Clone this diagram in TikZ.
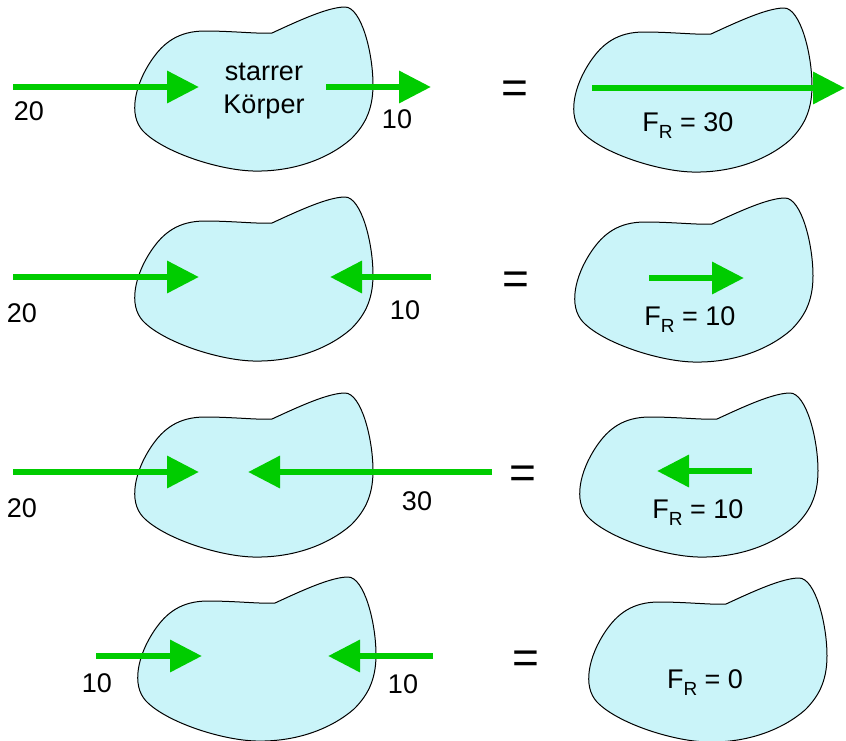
\documentclass[tikz,border=0pt]{standalone}
\usepackage{fontspec}
\setmainfont{Liberation Sans}
\usetikzlibrary{arrows.meta}
\definecolor{bodyfill}{RGB}{202,244,249}
\definecolor{forcegreen}{RGB}{0,204,0}
\newcommand\FRsub{F\raisebox{-0.26em}{\fontsize{19}{19}\selectfont R}}
\begin{document}
\begin{tikzpicture}[x=1pt,y=-1pt,
  force/.style={draw=forcegreen,line width=6.5pt,-{Triangle[length=32pt,width=31pt]}},
  lbl/.style={font=\fontsize{27}{32}\selectfont,inner sep=0pt,anchor=base},
  eqsign/.style={font=\fontsize{46}{46}\selectfont,inner sep=0pt},
  blob/.pic={\draw[fill=bodyfill,draw=black,line width=1pt]
     (139,26) .. controls (165,14) and (195,0) .. (212,0)
     .. controls (228,0) and (240,45) .. (240,78)
     .. controls (240,105) and (230,120) .. (218,132)
     .. controls (195,152) and (160,165) .. (120,164)
     .. controls (85,163) and (30,145) .. (10,124)
     .. controls (-5,108) and (2,78) .. (18,54)
     .. controls (30,36) and (45,24) .. (72,24)
     .. controls (100,24) and (125,27) .. (139,26) -- cycle;}
]
\useasboundingbox (0,0) rectangle (846,740);
% bodies
\pic at (133,7) {blob};
\pic at (572,8) {blob};
\pic at (133,197) {blob};
\pic at (573,198) {blob};
\pic at (133,393) {blob};
\pic at (578,393) {blob};
\pic at (136,577) {blob};
\pic at (587,578) {blob};
% arrow end points
\coordinate (a1s) at (13,87);  \coordinate (a1e) at (199,87);
\coordinate (b1s) at (326,87); \coordinate (b1e) at (431,87);
\coordinate (r1s) at (592,88); \coordinate (r1e) at (845,88);
\coordinate (a2s) at (13,277); \coordinate (a2e) at (199,277);
\coordinate (b2s) at (431,277); \coordinate (b2e) at (330,277);
\coordinate (r2s) at (649,278); \coordinate (r2e) at (744,278);
\coordinate (a3s) at (13,472); \coordinate (a3e) at (199,472);
\coordinate (b3s) at (492,472); \coordinate (b3e) at (248,472);
\coordinate (r3s) at (752,471); \coordinate (r3e) at (657,471);
\coordinate (a4s) at (96,656); \coordinate (a4e) at (202,656);
\coordinate (b4s) at (433,656); \coordinate (b4e) at (328,656);
% forces
\draw[force] (a1s) -- (a1e);
\draw[force] (b1s) -- (b1e);
\draw[force] (r1s) -- (r1e);
\draw[force] (a2s) -- (a2e);
\draw[force] (b2s) -- (b2e);
\draw[force] (r2s) -- (r2e);
\draw[force] (a3s) -- (a3e);
\draw[force] (b3s) -- (b3e);
\draw[force] (r3s) -- (r3e);
\draw[force] (a4s) -- (a4e);
\draw[force] (b4s) -- (b4e);
% labels
\node[lbl] (t1) at (264,80) {starrer};
\node[lbl] (t2) at (264,113) {Körper};
\node[lbl] (l1a) at (29,120) {20};
\node[lbl] (l1b) at (397,128) {10};
\node[lbl] (l2a) at (22,322) {20};
\node[lbl] (l2b) at (405,319) {10};
\node[lbl] (l3a) at (22,517) {20};
\node[lbl] (l3b) at (417,510) {30};
\node[lbl] (l4a) at (97,692) {10};
\node[lbl] (l4b) at (403,693) {10};
\node[lbl] (f1) at (688,131) {\FRsub{} = 30};
\node[lbl] (f2) at (690,325) {\FRsub{} = 10};
\node[lbl] (f3) at (698,518) {\FRsub{} = 10};
\node[lbl] (f4) at (705,688) {\FRsub{} = 0};
% equals signs
\node[eqsign] (e1) at (515,92) {=};
\node[eqsign] (e2) at (516,283) {=};
\node[eqsign] (e3) at (523,477) {=};
\node[eqsign] (e4) at (526,662) {=};
\end{tikzpicture}
\end{document}
